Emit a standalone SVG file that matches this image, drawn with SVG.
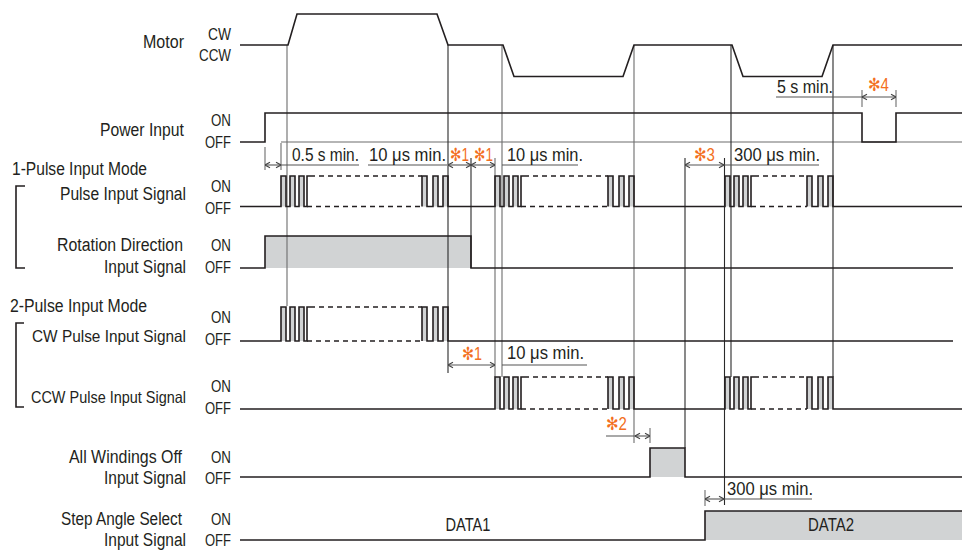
<svg xmlns="http://www.w3.org/2000/svg" width="965" height="551" viewBox="0 0 965 551">
<style>
text{font-family:"Liberation Sans","DejaVu Sans",Arial,sans-serif;font-size:18px;fill:#231f20}
.e{text-anchor:end}
.m{text-anchor:middle}
.s{font-size:16.5px}
.o{fill:#f36f21}
.sig{fill:none;stroke:#231f20;stroke-width:1.6;stroke-linejoin:miter}
.dash{fill:none;stroke:#231f20;stroke-width:1.4;stroke-dasharray:5 4}
.fill{fill:#d1d3d4;stroke:none}
.gd{stroke:#2a2a2a;stroke-width:1.1;fill:none}
.gl{stroke:#6d6d6d;stroke-width:1.1;fill:none}
.dim{stroke:#555;stroke-width:1.1;fill:none}
.arr{marker-start:url(#ah);marker-end:url(#ah)}
</style>
<defs>
<marker id="ah" viewBox="0 0 8 8" refX="8" refY="4" markerWidth="8" markerHeight="8" markerUnits="userSpaceOnUse" orient="auto-start-reverse">
<path d="M3,1.3 L8,4 L3,6.7" fill="none" stroke="#444" stroke-width="1.1"/>
</marker>
</defs>

<g id="labels">
<text class="e" x="184" y="48" textLength="41" lengthAdjust="spacingAndGlyphs">Motor</text>
<text class="e s" x="231" y="40" textLength="23" lengthAdjust="spacingAndGlyphs">CW</text>
<text class="e s" x="231" y="61" textLength="32" lengthAdjust="spacingAndGlyphs">CCW</text>
<text class="e" x="184" y="136" textLength="84" lengthAdjust="spacingAndGlyphs">Power Input</text>
<text class="e s" x="231" y="126" textLength="20" lengthAdjust="spacingAndGlyphs">ON</text>
<text class="e s" x="231" y="148" textLength="26" lengthAdjust="spacingAndGlyphs">OFF</text>
<text x="12" y="175" textLength="135" lengthAdjust="spacingAndGlyphs">1-Pulse Input Mode</text>
<text class="e" x="186" y="200" textLength="126" lengthAdjust="spacingAndGlyphs">Pulse Input Signal</text>
<text class="e s" x="231" y="192" textLength="20" lengthAdjust="spacingAndGlyphs">ON</text>
<text class="e s" x="231" y="214" textLength="26" lengthAdjust="spacingAndGlyphs">OFF</text>
<text class="e" x="183" y="251" textLength="126" lengthAdjust="spacingAndGlyphs">Rotation Direction</text>
<text class="e" x="186" y="273" textLength="82" lengthAdjust="spacingAndGlyphs">Input Signal</text>
<text class="e s" x="231" y="251" textLength="20" lengthAdjust="spacingAndGlyphs">ON</text>
<text class="e s" x="231" y="273" textLength="26" lengthAdjust="spacingAndGlyphs">OFF</text>
<text x="10" y="312" textLength="137" lengthAdjust="spacingAndGlyphs">2-Pulse Input Mode</text>
<text class="e s" x="186" y="342" textLength="154" lengthAdjust="spacingAndGlyphs">CW Pulse Input Signal</text>
<text class="e s" x="231" y="323" textLength="20" lengthAdjust="spacingAndGlyphs">ON</text>
<text class="e s" x="231" y="345" textLength="26" lengthAdjust="spacingAndGlyphs">OFF</text>
<text class="e s" x="186" y="403" textLength="155" lengthAdjust="spacingAndGlyphs">CCW Pulse Input Signal</text>
<text class="e s" x="231" y="392" textLength="20" lengthAdjust="spacingAndGlyphs">ON</text>
<text class="e s" x="231" y="414" textLength="26" lengthAdjust="spacingAndGlyphs">OFF</text>
<text class="e" x="182" y="463" textLength="113" lengthAdjust="spacingAndGlyphs">All Windings Off</text>
<text class="e" x="186" y="484" textLength="82" lengthAdjust="spacingAndGlyphs">Input Signal</text>
<text class="e s" x="231" y="463" textLength="20" lengthAdjust="spacingAndGlyphs">ON</text>
<text class="e s" x="231" y="484" textLength="26" lengthAdjust="spacingAndGlyphs">OFF</text>
<text class="e" x="182" y="525" textLength="121" lengthAdjust="spacingAndGlyphs">Step Angle Select</text>
<text class="e" x="186" y="546" textLength="82" lengthAdjust="spacingAndGlyphs">Input Signal</text>
<text class="e s" x="231" y="525" textLength="20" lengthAdjust="spacingAndGlyphs">ON</text>
<text class="e s" x="231" y="546" textLength="26" lengthAdjust="spacingAndGlyphs">OFF</text>
<path class="sig" d="M25,186 H16 V268 H25 M24,323 H16 V407 H24" stroke-width="1.3"/>
</g>

<g id="fills">
<rect class="fill" x="281" y="176" width="5" height="30.5"/><rect class="fill" x="290" y="176" width="5" height="30.5"/><rect class="fill" x="299" y="176" width="5" height="30.5"/>
<rect class="fill" x="422" y="176" width="5" height="30.5"/><rect class="fill" x="433" y="176" width="5" height="30.5"/><rect class="fill" x="443" y="176" width="5" height="30.5"/>
<rect class="fill" x="495" y="176" width="5" height="30.5"/><rect class="fill" x="504" y="176" width="5" height="30.5"/><rect class="fill" x="513" y="176" width="5" height="30.5"/>
<rect class="fill" x="608" y="176" width="5" height="30.5"/><rect class="fill" x="619" y="176" width="5" height="30.5"/><rect class="fill" x="629" y="176" width="5" height="30.5"/>
<rect class="fill" x="725" y="176" width="5" height="30.5"/><rect class="fill" x="734" y="176" width="5" height="30.5"/><rect class="fill" x="743" y="176" width="5" height="30.5"/>
<rect class="fill" x="807" y="176" width="5" height="30.5"/><rect class="fill" x="818" y="176" width="5" height="30.5"/><rect class="fill" x="828" y="176" width="5" height="30.5"/>
<rect class="fill" x="265" y="236" width="206" height="32"/>
<rect class="fill" x="281" y="307" width="5" height="34"/><rect class="fill" x="290" y="307" width="5" height="34"/><rect class="fill" x="299" y="307" width="5" height="34"/>
<rect class="fill" x="422" y="307" width="5" height="34"/><rect class="fill" x="433" y="307" width="5" height="34"/><rect class="fill" x="443" y="307" width="5" height="34"/>
<rect class="fill" x="495" y="377" width="5" height="32"/><rect class="fill" x="504" y="377" width="5" height="32"/><rect class="fill" x="513" y="377" width="5" height="32"/>
<rect class="fill" x="608" y="377" width="5" height="32"/><rect class="fill" x="619" y="377" width="5" height="32"/><rect class="fill" x="629" y="377" width="5" height="32"/>
<rect class="fill" x="725" y="377" width="5" height="32"/><rect class="fill" x="734" y="377" width="5" height="32"/><rect class="fill" x="743" y="377" width="5" height="32"/>
<rect class="fill" x="807" y="377" width="5" height="32"/><rect class="fill" x="818" y="377" width="5" height="32"/><rect class="fill" x="828" y="377" width="5" height="32"/>
<rect class="fill" x="650" y="448" width="35" height="29"/>
<rect class="fill" x="705" y="511" width="257" height="29"/>
</g>

<g id="connectors">
<path class="gl" d="M281,142 H962"/>
<path class="gl" d="M287,45 V306 M502,45 V377 M495,158 V377 M634,45 V443 M265,147 V170 M281,143 V170 M650,428 V443 M705,490 V506 M862,90 V107 M896,90 V107"/>
<path class="gd" d="M448,45 V373 M471,158 V268 M685,158 V448 M724.5,158 V505 M731,45 V377 M833,45 V377"/>
<path class="dim arr" d="M265,165 H281"/>
<path class="dim" d="M281,165 H359 M368,165 H447 M502,165 H578 M724,165 H819 M776,97 H862 M502,365 H587 M606,436 H635 M724,499 H812"/>
<path class="dim arr" d="M448,165 H471"/>
<path class="dim arr" d="M471,165 H495"/>
<path class="dim arr" d="M685,165 H724"/>
<path class="dim arr" d="M862,97 H896"/>
<path class="dim arr" d="M448,365 H495"/>
<path class="dim arr" d="M635,436 H650"/>
<path class="dim arr" d="M705,499 H724"/>
</g>

<g id="motor">
<path class="sig" d="M240,45 H288 L297,14 H437 L448,45 H503 L514,76.5 H623 L634,45 H732 L743,76.5 H822 L833,45 H962"/>
</g>
<g id="power">
<path class="sig" d="M240,142 H265 V113 H862 V142 H896 V113 H962"/>
</g>
<g id="pulse-input">
<path class="sig" d="M240,206.5 H281 V176 H286 V206.5 H290 V176 H295 V206.5 H299 V176 H304 V206.5 H307 V176 H310"/>
<path class="sig" d="M422,206.5 V176 H427 V206.5 H433 V176 H438 V206.5 H443 V176 H448 V206.5 H495 V176 H500 V206.5 H504 V176 H509 V206.5 H513 V176 H518 V206.5 H521 V176 H524"/>
<path class="sig" d="M608,206.5 V176 H613 V206.5 H619 V176 H624 V206.5 H629 V176 H634 V206.5 H725 V176 H730 V206.5 H734 V176 H739 V206.5 H743 V176 H748 V206.5 H751 V176 H754"/>
<path class="sig" d="M807,206.5 V176 H812 V206.5 H818 V176 H823 V206.5 H828 V176 H833 V206.5 H962"/>
<path class="dash" d="M310,176 H422 M307,206.5 H422 M524,176 H608 M521,206.5 H608 M754,176 H807 M751,206.5 H807"/>
</g>
<g id="rotation-direction">
<path class="sig" d="M240,268 H265 V236 H471 V268 H953"/>
</g>
<g id="cw-pulse">
<path class="sig" d="M240,341 H281 V307 H286 V341 H290 V307 H295 V341 H299 V307 H304 V341 H307 V307 H310"/>
<path class="sig" d="M422,341 V307 H427 V341 H433 V307 H438 V341 H443 V307 H448 V341 H953"/>
<path class="dash" d="M310,307 H422 M307,341 H422"/>
</g>
<g id="ccw-pulse">
<path class="sig" d="M240,409 H495 V377 H500 V409 H504 V377 H509 V409 H513 V377 H518 V409 H521 V377 H524"/>
<path class="sig" d="M608,409 V377 H613 V409 H619 V377 H624 V409 H629 V377 H634 V409 H725 V377 H730 V409 H734 V377 H739 V409 H743 V377 H748 V409 H751 V377 H754"/>
<path class="sig" d="M807,409 V377 H812 V409 H818 V377 H823 V409 H828 V377 H833 V409 H962"/>
<path class="dash" d="M524,377 H608 M521,409 H608 M754,377 H807 M751,409 H807"/>
</g>
<g id="all-windings-off">
<path class="sig" d="M240,477 H650 V448 H685 V477 H962"/>
</g>
<g id="step-angle-select">
<path class="sig" d="M240,540 H705 V511 H962"/>
<text class="m" x="468" y="531" textLength="45" lengthAdjust="spacingAndGlyphs">DATA1</text>
<text class="m" x="831" y="531" textLength="46" lengthAdjust="spacingAndGlyphs">DATA2</text>
</g>

<g id="dimension-labels">
<text x="292" y="161" textLength="67" lengthAdjust="spacingAndGlyphs">0.5 s min.</text>
<text x="369" y="161" textLength="77" lengthAdjust="spacingAndGlyphs">10 μs min.</text>
<text class="o" x="450" y="161" textLength="19" lengthAdjust="spacingAndGlyphs">✻1</text>
<text class="o" x="474" y="161" textLength="19" lengthAdjust="spacingAndGlyphs">✻1</text>
<text x="507" y="161" textLength="76" lengthAdjust="spacingAndGlyphs">10 μs min.</text>
<text class="o" x="694" y="161" textLength="21" lengthAdjust="spacingAndGlyphs">✻3</text>
<text x="734" y="161" textLength="86" lengthAdjust="spacingAndGlyphs">300 μs min.</text>
<text x="777" y="93" textLength="56" lengthAdjust="spacingAndGlyphs">5 s min.</text>
<text class="o" x="868" y="91" textLength="21" lengthAdjust="spacingAndGlyphs">✻4</text>
<text class="o" x="462" y="360" textLength="20" lengthAdjust="spacingAndGlyphs">✻1</text>
<text x="507" y="359" textLength="77" lengthAdjust="spacingAndGlyphs">10 μs min.</text>
<text class="o" x="606" y="430" textLength="21" lengthAdjust="spacingAndGlyphs">✻2</text>
<text x="727" y="495" textLength="86" lengthAdjust="spacingAndGlyphs">300 μs min.</text>
</g>
</svg>
